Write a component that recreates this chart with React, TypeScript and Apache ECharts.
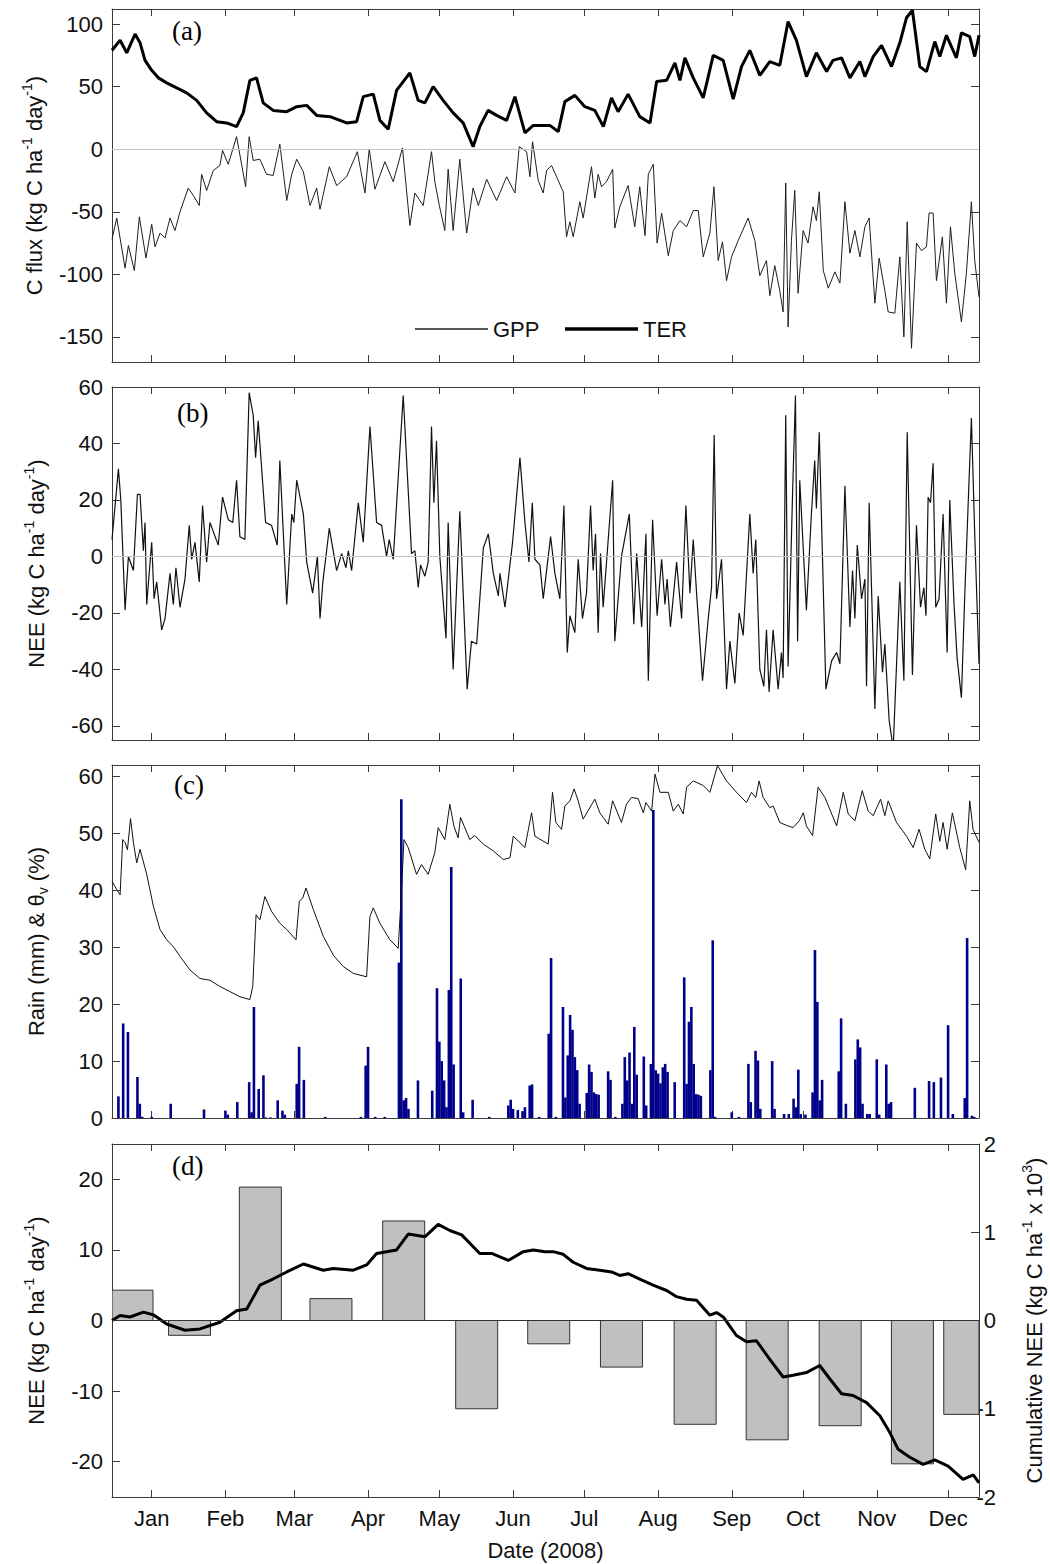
import React, { useEffect, useRef } from "react";
import * as echarts from "echarts";

// ---------- data (x = day of 2008, 0 = 1 Jan) ----------
const monthTicks = [0, 31, 60, 91, 121, 152, 182, 213, 244, 274, 305, 335];
const monthNames = ["Jan", "Feb", "Mar", "Apr", "May", "Jun", "Jul", "Aug", "Sep", "Oct", "Nov", "Dec"];

const terSeries: number[][] = [
  [-16.7, 79], [-13.3, 87], [-10.5, 77], [-7, 92], [-4.9, 85], [-2.8, 71], [0, 63], [2.8, 57], [6.3, 53],
  [10.5, 49], [14.7, 45], [18.9, 39], [23.1, 29], [27.3, 22], [31.5, 21], [35.7, 18], [38.5, 29], [41.3, 55],
  [44.1, 57], [46.9, 37], [51.1, 31], [56.8, 30], [61, 34], [65.2, 35], [69.4, 27], [75, 26], [82, 21],
  [86.2, 22], [89, 42], [93.2, 44], [96, 23], [99.5, 16], [103, 47], [108.6, 61], [112.1, 39], [114.9, 37],
  [118.4, 50], [122.6, 39], [126.8, 29], [131, 21], [135.2, 2], [138, 18], [141.5, 31], [145.1, 27],
  [149.3, 23], [152.8, 42], [157, 13], [160.5, 19], [163.3, 19], [167.5, 19], [171, 14], [173.8, 38],
  [178, 43], [182.2, 34], [186.4, 31], [190, 18], [193.4, 41], [196.2, 30], [200.4, 44], [205.3, 26],
  [209.6, 21], [212.4, 54], [216.6, 55], [220.1, 69], [222.2, 55], [224.3, 73], [227.8, 57], [232, 41],
  [236.2, 75], [240.4, 71], [244.6, 40], [248.1, 66], [251.6, 79], [255.8, 59], [260, 70], [264.2, 67],
  [267.7, 102], [271.2, 87], [275.4, 58], [279.6, 77], [283.9, 62], [286.6, 71], [290.2, 73], [293.7, 57],
  [297.9, 70], [300, 58], [303.5, 74], [307, 83], [311.2, 66], [314.7, 85], [317.5, 105], [320, 111],
  [323.1, 66], [325.9, 62], [329.4, 86], [331.5, 74], [334.3, 91], [338.5, 73], [340.6, 93], [344.1, 90],
  [346.2, 74], [348, 91],
];

const gppSeries: number[][] = [
  [-16.7, -72], [-14.7, -55], [-11.2, -95], [-9.8, -77], [-7.3, -97], [-5.2, -54], [-2.4, -87], [0, -60],
  [1.4, -78], [3.5, -67], [5.6, -71], [7.7, -55], [9.8, -65], [11.9, -50], [15.4, -31], [17.5, -37],
  [20, -45], [21, -20], [23.1, -33], [25.9, -17], [28.7, -13], [29.8, -1], [32.2, -12], [35.7, 10],
  [37.8, -12], [39.5, -30], [41, 10], [42.7, -9], [45.5, -8], [48.3, -20], [51.1, -21], [53.9, 4],
  [56.8, -41], [58.9, -20], [61, -8], [63.8, -18], [66.6, -45], [69.4, -31], [70.8, -48], [74.7, -14],
  [77.8, -29], [82, -22], [86.5, -2], [89.7, -35], [91.5, 0], [93.9, -32], [98.1, -10], [101.6, -26],
  [105.5, 1], [108.6, -61], [110.7, -35], [114.2, -45], [117.7, -2], [119.1, -26], [121, -45], [123.3, -65],
  [124.7, -16], [126.8, -65], [129.6, -8], [132.5, -67], [135.2, -31], [137.4, -45], [140.9, -24],
  [145.1, -41], [149.3, -22], [152.8, -35], [154.6, 2], [157.7, -2], [159.1, -22], [160.2, 6], [162.6, -25],
  [164.7, -35], [166.1, -17], [168.2, -13], [170.3, -22], [173.1, -34], [174.5, -70], [175.9, -58],
  [177.3, -70], [180.1, -42], [181.5, -55], [185, -14], [186.4, -39], [187.8, -20], [189.2, -30],
  [191.3, -26], [193.9, -16], [194.8, -63], [196.9, -46], [200.4, -29], [203.2, -62], [205.3, -30],
  [207.5, -69], [208.9, -20], [211, -12], [212.6, -75], [214.5, -51], [217.3, -85], [219.4, -65],
  [222.2, -57], [225, -62], [227.8, -49], [229.9, -49], [232, -86], [234.8, -67], [236.5, -30],
  [238.3, -89], [240.1, -74], [241.8, -105], [243.9, -86], [246.7, -73], [250.9, -55], [253.7, -73],
  [255.8, -101], [258.6, -89], [260, -117], [262.1, -93], [264.2, -113], [265.6, -130], [266.7, -27],
  [267.7, -142], [269.1, -73], [270.5, -33], [271.9, -115], [274, -65], [276.1, -75], [278.2, -46],
  [279.6, -57], [280.8, -34], [282.5, -97], [284.6, -111], [287.4, -98], [289.5, -107], [291.6, -42],
  [293.7, -83], [295.8, -65], [297.9, -86], [300, -62], [301.8, -55], [304.2, -123], [306, -87],
  [308.4, -113], [309.8, -130], [312.6, -131], [314.7, -86], [316.4, -150], [317.8, -58], [319.6, -159],
  [321.7, -75], [323.8, -81], [325.9, -78], [327, -51], [328.7, -51], [330.1, -105], [332.6, -70],
  [334.3, -123], [336, -62], [337.8, -99], [340.6, -138], [342.7, -99], [344.8, -42], [346.2, -89],
  [348, -118],
];

const neeSeries: number[][] = [
  [-16.7, 6], [-14, 31], [-13, 20], [-11.2, -19], [-9.8, 0], [-7.7, -5], [-6, 22], [-4.9, 22], [-3.5, 2],
  [-2.8, 12], [-2.1, -17], [0, 5], [1, -15], [2.1, -9], [4.2, -26], [5.6, -22], [7.7, -6], [9.1, -17],
  [10.2, -4], [11.9, -18], [14, -8], [15.8, 11], [16.8, -1], [18.2, 5], [20, -9], [21.4, 18], [23.1, -2],
  [24.5, 12], [28, 4], [29.8, 21], [32.2, 13], [34.1, 12], [35.7, 27], [37.1, 7], [39.2, 6], [41, 58],
  [42.7, 50], [43.7, 35], [44.8, 48], [47.9, 12], [50.4, 11], [52.8, 4], [53.9, 34], [56.8, -17],
  [58.9, 15], [59.8, 12], [61, 27], [63.8, 15], [65.2, -2], [67.7, -13], [69.7, 0], [70.8, -22], [72, -9],
  [74.7, 10], [77.8, -5], [79.9, 1], [81.7, -4], [82.7, 2], [84.1, -5], [86.9, 19], [89, 5], [91.8, 46],
  [94.6, 12], [96.7, 11], [98.8, 0], [99.9, 6], [101.6, -1], [105.8, 57], [109.3, 1], [110.7, 2],
  [112.1, -11], [113.1, -3], [114.9, -7], [116.3, -2], [117.7, 46], [118.7, 19], [119.8, 41], [121.2, 0],
  [123.8, -29], [124.7, 12], [126.8, -40], [129.6, 16], [132.7, -47], [134.5, -30], [136.7, -31],
  [139.5, 3], [141.6, 8], [143.7, -6], [145.8, -14], [146.5, -6], [148.6, -18], [151.8, 5], [154.9, 35],
  [157, 12], [158.7, -2], [160.1, 19], [161.2, -1], [163.3, -3], [164.7, -15], [166.1, -5], [167.8, 7],
  [169.6, -6], [171.7, -15], [173.4, 18], [174.8, -34], [175.9, -21], [178, -27], [179.4, -1], [181.2, -22],
  [182.9, -13], [184.6, 18], [185.7, -5], [186.7, 8], [187.8, -27], [188.8, 1], [189.9, -18], [193.9, 27],
  [194.8, -30], [197.6, 0], [200.9, 15], [202.8, -24], [204, 1], [206.1, -25], [207.9, 8], [208.9, -44],
  [210.7, 13], [212.6, -21], [214.5, -1], [215.9, -17], [216.8, -8], [218.2, -25], [220.8, -2],
  [222.9, -22], [224.7, 18], [226.4, -13], [227.8, 6], [229.2, -13], [231.7, -44], [234.1, -22],
  [235.5, -11], [236.6, 43], [237.6, -15], [239.7, -1], [241.8, -47], [243.2, -30], [245.3, -45],
  [247.1, -20], [248.8, -28], [251.6, 15], [253, -6], [254.1, 6], [255.8, -40], [257.5, -46], [258.6, -26],
  [259.7, -48], [261.4, -26], [263.5, -47], [264.9, -34], [265.6, -43], [266.7, 50], [267.7, -39],
  [269.6, 23], [270.8, 57], [271.7, -30], [272.6, 27], [275.4, -19], [277.5, 15], [278.9, 34], [279.6, 17],
  [280.8, 44], [283.6, -47], [286, -37], [288.1, -34], [289.5, -38], [291.6, 25], [293.7, -25],
  [294.8, -5], [295.8, -22], [296.8, 4], [298.6, -15], [300, -8], [300.7, -46], [301.8, 19], [304.2, -54],
  [305.6, -14], [307.4, -41], [308.4, -31], [310.2, -58], [311.9, -68], [314.7, -9], [316.4, -44],
  [317.8, 44], [320, -42], [321.7, 11], [323.4, -18], [324.8, -11], [325.7, -21], [326.6, 21], [327.6, 19],
  [328.7, 33], [329.8, -18], [331.2, -15], [332.9, 15], [334.6, -34], [335.7, 20], [337.5, -17],
  [338.8, -36], [340.6, -50], [342, -14], [344.8, 49], [346.2, 8], [348, -38],
];

const soilMoisture: number[][] = [
  [-16.7, 41.6], [-14.7, 40.1], [-13.3, 39.2], [-12.2, 48.9], [-11.2, 48.4], [-10.2, 47.1], [-8.9, 52.6],
  [-7.7, 48.4], [-6.3, 44.8], [-4.9, 47.2], [-2.1, 42.8], [0.7, 37.2], [3.5, 33.1], [6.3, 31.3], [9.1, 30.1],
  [11.9, 28.4], [16.1, 26], [20.3, 24.5], [24.5, 24.2], [28.7, 23.1], [32.9, 22.2], [37.1, 21.3],
  [41.3, 20.8], [42.5, 23.1], [43.9, 35.7], [45.5, 34.8], [47.6, 38.9], [50.4, 36.3], [53.9, 34.2],
  [56.8, 33.1], [60.7, 31.3], [62.1, 38.1], [63.5, 38.6], [64.9, 40.4], [68, 36.6], [72.2, 31.9],
  [76.4, 28.6], [80.6, 26.6], [84.8, 25.4], [90.4, 24.8], [91.8, 35.4], [93.2, 36.9], [96, 34.2],
  [100.2, 31.3], [103.7, 29.8], [105.1, 40.1], [106.1, 48.9], [107.9, 47.5], [111.4, 42.8], [113.5, 44.5],
  [116.3, 42.8], [119.1, 46.6], [120.5, 51], [123.3, 48.9], [125.4, 55.1], [127.1, 51.3], [128.9, 49.2],
  [129.9, 52.8], [133.8, 48.9], [135.9, 49.6], [139.5, 48.1], [143.7, 46.9], [147.9, 45.4], [150.7, 45.7],
  [152.1, 49.5], [157, 47.5], [159.8, 53.6], [161.2, 49.5], [166.8, 48.1], [168.6, 57.2], [170, 51.9],
  [172.4, 50.7], [173.8, 54.8], [175.9, 55.7], [177.7, 57.8], [179.4, 55.7], [181.5, 52.5], [186.4, 56],
  [188.5, 53.6], [192, 51.6], [193.9, 55.7], [197.6, 51.9], [199.7, 55.1], [201.8, 56.3], [204.6, 56.1],
  [206.8, 53.6], [207.9, 55.4], [210.3, 53.9], [211.7, 60.4], [213.8, 57.2], [217.3, 57.2], [219.4, 53.9],
  [221.5, 55.1], [223.6, 53.4], [225, 58.1], [227.8, 59.2], [232, 58.4], [234.8, 57.2], [238, 61.9],
  [241.8, 59.2], [246, 57.2], [250.2, 55.4], [252.3, 57.2], [254.1, 56.3], [255.5, 59.2], [257.2, 56.3],
  [260, 54.5], [261.4, 54.8], [264.2, 51.9], [267, 51.4], [269.8, 51], [272.4, 52.2], [274.1, 53.6],
  [275.4, 51.3], [278, 49.6], [280.3, 58.1], [283.2, 56.3], [288.1, 51.3], [290.9, 57.2], [293, 53.4],
  [295.8, 52.2], [298.9, 57.5], [301.4, 53.9], [303.5, 53.1], [306.6, 56], [308.4, 53.1], [309.8, 55.7],
  [313.3, 51.9], [317.5, 49.5], [320.3, 47.5], [322.8, 50.7], [325.2, 47.2], [327.3, 45.5], [329.8, 53.4],
  [331.5, 48.6], [332.9, 51.9], [334.6, 47.2], [336.8, 53.6], [339.9, 47.5], [342.4, 43.6], [344.1, 55.7],
  [345.5, 50.7], [348, 48.4],
];

const rainfall: number[][] = [
  [-14, 3.8], [-12, 16.6], [-10, 15.1], [-6, 7.2], [-5, 2.5], [-4, 0.2], [0, 0.2], [8, 2.5], [22, 1.5],
  [31, 1.3], [32, 0.6], [36, 2.8], [41, 6.3], [42, 1.0], [43, 19.5], [45, 5.1], [47, 7.5], [48, 0.1],
  [50, 0.1], [53, 3.1], [55, 1.3], [56, 0.6], [61, 6.0], [62, 12.5], [64, 6.7], [73, 0.2], [88, 0.2],
  [90, 9.2], [91, 12.5], [94, 0.2], [98, 0.2], [104, 27.3], [105, 56], [106, 3.1], [107, 3.5], [108, 1.6],
  [112, 6.6], [118, 4.8], [120, 22.8], [121, 13.4], [122, 10], [123, 6.6], [124, 1.9], [125, 22.5],
  [126, 44.1], [127, 9.4], [130, 24.5], [131, 1.0], [135, 3.2], [142, 0.2], [150, 2.2], [151, 3.2],
  [152, 1.6], [154, 1.4], [156, 1.2], [157, 1.9], [159, 5.7], [160, 5.9], [163, 0.2], [167, 14.8],
  [168, 28.1], [170, 0.2], [173, 19.5], [174, 3.6], [175, 11], [176, 18.1], [177, 15.5], [178, 10.7],
  [179, 8.4], [180, 2.5], [183, 4.4], [184, 9.4], [185, 8.1], [186, 4.5], [187, 4.2], [188, 4.1],
  [192, 8.2], [193, 6.7], [195, 0.2], [198, 2.5], [199, 10.7], [200, 6.6], [201, 11.5], [202, 2.5],
  [203, 16], [204, 7.6], [207, 10.8], [208, 2.2], [210, 9.5], [211, 54.1], [212, 8.4], [213, 7.8],
  [214, 6.1], [215, 8.9], [216, 9.5], [217, 8.1], [220, 6.3], [224, 24.7], [225, 6], [226, 16.9],
  [227, 19.5], [228, 9.5], [229, 4.2], [230, 4.1], [231, 3.9], [235, 8.4], [236, 31.2], [237, 0.2],
  [244, 1.0], [247, 0.2], [251, 9.5], [252, 2.8], [254, 11.8], [255, 10.1], [256, 1.6], [261, 10],
  [262, 1.6], [266, 0.7], [268, 0.7], [270, 3.4], [271, 1.9], [272, 8.5], [273, 0.7], [275, 0.6],
  [278, 4.5], [279, 29.5], [280, 20.4], [281, 3.1], [282, 6.7], [289, 8.2], [290, 17.5], [292, 2.5],
  [296, 10.3], [297, 13.8], [298, 12.4], [299, 2.5], [301, 0.7], [302, 0.7], [305, 10.3], [306, 0.6],
  [309, 9.4], [310, 2.5], [311, 2.8], [321, 5.3], [327, 6.5], [329, 6.3], [332, 7.1], [335, 16.3],
  [337, 0.7], [342, 3.5], [343, 31.6], [345, 0.4], [346, 0.2],
];

const monthlyDays = [-8.3, 15.9, 45.7, 75.4, 106, 136.7, 167, 197.6, 228.6, 258.9, 289.6, 320, 342];
const monthlyNEE = [4.3, -2.1, 18.9, 3.1, 14.1, -12.5, -3.3, -6.6, -14.7, -16.9, -14.9, -20.3, -13.3];

const cumulativeNEE: number[][] = [
  [-16.7, 0], [-13.3, 0.057], [-9.1, 0.04], [-3.5, 0.095], [0.7, 0.064], [6.3, -0.04], [14, -0.11],
  [20.3, -0.095], [28.7, -0.02], [35.7, 0.11], [40, 0.13], [45.5, 0.4], [51, 0.47], [56.8, 0.55],
  [63.8, 0.64], [72.2, 0.57], [76.4, 0.59], [84.8, 0.57], [90.4, 0.63], [94.6, 0.76], [103, 0.8],
  [107.9, 0.98], [115, 0.95], [120.5, 1.09], [125.4, 1.02], [130.4, 0.97], [138, 0.76], [143, 0.76],
  [150, 0.68], [156.3, 0.78], [160.5, 0.8], [165.4, 0.78], [168.9, 0.78], [173.1, 0.75], [177.3, 0.66],
  [182.9, 0.59], [188.5, 0.57], [193.4, 0.55], [196.9, 0.51], [200.4, 0.53], [205.3, 0.47], [210.9, 0.4],
  [216.6, 0.34], [220.8, 0.27], [225, 0.24], [229.2, 0.23], [234.8, 0.06], [237.6, 0.09], [240.4, 0.04],
  [246, -0.17], [250.2, -0.24], [254.4, -0.23], [260, -0.44], [265.6, -0.64], [269.8, -0.62],
  [275.4, -0.59], [281, -0.51], [285.2, -0.66], [290.2, -0.83], [295, -0.85], [300.7, -0.93],
  [306.3, -1.08], [310.5, -1.27], [314, -1.46], [318.9, -1.55], [324.5, -1.63], [329.4, -1.58],
  [335, -1.65], [341.3, -1.8], [345.6, -1.75], [348, -1.84],
];

const fluxTicks = [-150, -100, -50, 0, 50, 100];
const neeTicks = [-60, -40, -20, 0, 20, 40, 60];
const rainTicks = [0, 10, 20, 30, 40, 50, 60];
const monthNeeTicks = [-20, -10, 0, 10, 20];
const cumTicks = [-2, -1, 0, 1, 2];

// ---------- styling ----------
const FONT = "'Liberation Sans', Arial, Helvetica, sans-serif";
const SERIF = "'Liberation Serif', 'Times New Roman', serif";
const AXIS_COLOR = "#3a3a3a";
const TEXT_COLOR = "#111";
const X_MIN = -16.7;
const X_MAX = 348;
const GRID_LEFT = 112;
const GRID_W = 867;
const GRID_H = 353;
const GRID_TOPS = [9, 387, 765, 1144];
const MONTH_BAR_PX = 42;

const nameRich = {
  sup: { fontSize: 14, fontFamily: FONT, color: TEXT_COLOR, verticalAlign: "top", lineHeight: 14 },
  sub: { fontSize: 14, fontFamily: FONT, color: TEXT_COLOR, verticalAlign: "bottom", lineHeight: 14 },
};

function xAxes(i: number) {
  const base = {
    type: "value",
    gridIndex: i,
    min: X_MIN,
    max: X_MAX,
    splitLine: { show: false },
    axisLine: { show: true, onZero: false, lineStyle: { color: AXIS_COLOR, width: 1 } },
    axisTick: { show: true, inside: true, length: 7, customValues: monthTicks, lineStyle: { color: AXIS_COLOR } },
  };
  const bottom: any = {
    ...base,
    position: "bottom",
    axisLabel: {
      show: i === 3,
      customValues: monthTicks,
      margin: 10,
      fontSize: 22,
      fontFamily: FONT,
      color: TEXT_COLOR,
      formatter: (v: number) => monthNames[monthTicks.indexOf(v)] ?? "",
    },
  };
  if (i === 3) {
    bottom.name = "Date (2008)";
    bottom.nameLocation = "middle";
    bottom.nameGap = 42;
    bottom.nameTextStyle = { fontSize: 22, fontFamily: FONT, color: TEXT_COLOR };
  }
  const top = { ...base, position: "top", axisLabel: { show: false } };
  return [bottom, top];
}

function yAxes(i: number, min: number, max: number, ticks: number[], name: string, right?: any) {
  const line = { show: true, onZero: false, lineStyle: { color: AXIS_COLOR, width: 1 } };
  const left = {
    type: "value",
    gridIndex: i,
    position: "left",
    min,
    max,
    splitLine: { show: false },
    axisLine: line,
    axisTick: { show: true, inside: true, length: 8, customValues: ticks, lineStyle: { color: AXIS_COLOR } },
    axisLabel: { customValues: ticks, margin: 9, fontSize: 22, fontFamily: FONT, color: TEXT_COLOR },
    name,
    nameLocation: "middle",
    nameGap: 62,
    nameRotate: 90,
    nameTextStyle: { fontSize: 22, fontFamily: FONT, color: TEXT_COLOR, lineHeight: 28, rich: nameRich },
  };
  const r = right
    ? {
        type: "value",
        gridIndex: i,
        position: "right",
        min: right.min,
        max: right.max,
        splitLine: { show: false },
        axisLine: line,
        axisTick: { show: true, inside: true, length: 8, customValues: right.ticks, lineStyle: { color: AXIS_COLOR } },
        axisLabel: {
          customValues: right.ticks,
          margin: 17,
          align: "right",
          fontSize: 22,
          fontFamily: FONT,
          color: TEXT_COLOR,
        },
        name: right.name,
        nameLocation: "middle",
        nameGap: 41,
        nameRotate: 90,
        nameTextStyle: { fontSize: 22, fontFamily: FONT, color: TEXT_COLOR, lineHeight: 28, rich: nameRich },
      }
    : {
        type: "value",
        gridIndex: i,
        position: "right",
        min,
        max,
        splitLine: { show: false },
        axisLine: line,
        axisTick: { show: true, inside: true, length: 8, customValues: ticks, lineStyle: { color: AXIS_COLOR } },
        axisLabel: { show: false },
      };
  return [left, r];
}

const zeroLine = (color: string) => ({
  silent: true,
  symbol: ["none", "none"],
  label: { show: false },
  lineStyle: { color, type: "solid", width: 1 },
  data: [{ yAxis: 0 }],
});

function renderMonthBar(params: any, api: any) {
  const x = api.value(0);
  const v = api.value(1);
  const p0 = api.coord([x, 0]);
  const p1 = api.coord([x, v]);
  const cs = params.coordSys;
  const shape = echarts.graphic.clipRectByRect(
    {
      x: p0[0] - MONTH_BAR_PX / 2,
      y: Math.min(p0[1], p1[1]),
      width: MONTH_BAR_PX,
      height: Math.abs(p1[1] - p0[1]),
    },
    { x: cs.x, y: cs.y, width: cs.width, height: cs.height }
  );
  if (!shape) return null;
  return {
    type: "rect",
    shape,
    style: { fill: "#c0c0c0", stroke: "#333", lineWidth: 1 },
  };
}

function buildOption() {
  const grids = GRID_TOPS.map((t) => ({
    left: GRID_LEFT,
    top: t,
    width: GRID_W,
    height: GRID_H,
    containLabel: false,
    outerBoundsMode: "none",
    show: false,
  }));
  const xAxis = [0, 1, 2, 3].flatMap((i) => xAxes(i));
  const yAxis = [
    ...yAxes(0, -170, 112, fluxTicks, "C flux (kg C ha{sup|-1} day{sup|-1})"),
    ...yAxes(1, -65, 60, neeTicks, "NEE (kg C ha{sup|-1} day{sup|-1})"),
    ...yAxes(2, 0, 62, rainTicks, "Rain (mm) & θ{sub|v} (%)"),
    ...yAxes(3, -25, 25, monthNeeTicks, "NEE (kg C ha{sup|-1} day{sup|-1})", {
      min: -2,
      max: 2,
      ticks: cumTicks,
      name: "Cumulative NEE (kg C ha{sup|-1} x 10{sup|3})",
    }),
  ];

  const panelLabels = ["(a)", "(b)", "(c)", "(d)"];
  const labelPos = [
    [172, 17],
    [177, 399],
    [174, 771],
    [172, 1152],
  ];

  const legendBase = {
    show: true,
    top: 313,
    orient: "horizontal",
    icon: "rect",
    itemWidth: 73,
    itemGap: 17,
    textStyle: { fontSize: 22, fontFamily: FONT, color: TEXT_COLOR },
  };

  return {
    animation: false,
    backgroundColor: "#ffffff",
    grid: grids,
    xAxis,
    yAxis,
    legend: [
      { ...legendBase, left: 410, itemHeight: 1.3, data: ["GPP"] },
      { ...legendBase, left: 560, itemHeight: 3.5, data: ["TER"] },
    ],
    graphic: panelLabels.map((t, k) => ({
      type: "text",
      x: labelPos[k][0],
      y: labelPos[k][1],
      style: { text: t, fontSize: 27, fontFamily: SERIF, fill: "#000", textVerticalAlign: "top" },
      silent: true,
    })),
    series: [
      {
        name: "GPP",
        type: "line",
        xAxisIndex: 0,
        yAxisIndex: 0,
        data: gppSeries,
        symbol: "none",
        lineStyle: { color: "#1e1e1e", width: 1 },
        itemStyle: { color: "#1e1e1e" },
        markLine: zeroLine("#c4c4c4"),
      },
      {
        name: "TER",
        type: "line",
        xAxisIndex: 0,
        yAxisIndex: 0,
        data: terSeries,
        symbol: "none",
        lineStyle: { color: "#000", width: 3 },
        itemStyle: { color: "#000" },
      },
      {
        name: "NEE",
        type: "line",
        xAxisIndex: 2,
        yAxisIndex: 2,
        data: neeSeries,
        symbol: "none",
        lineStyle: { color: "#111", width: 1.2 },
        markLine: zeroLine("#c4c4c4"),
      },
      {
        name: "Rain",
        type: "bar",
        xAxisIndex: 4,
        yAxisIndex: 4,
        data: rainfall,
        barWidth: 2.6,
        itemStyle: { color: "#00008b" },
      },
      {
        name: "Soil moisture",
        type: "line",
        xAxisIndex: 4,
        yAxisIndex: 4,
        data: soilMoisture,
        symbol: "none",
        lineStyle: { color: "#111", width: 1 },
      },
      {
        name: "Monthly NEE",
        type: "custom",
        xAxisIndex: 6,
        yAxisIndex: 6,
        data: monthlyDays.map((d, k) => [d, monthlyNEE[k]]),
        encode: { x: 0, y: 1 },
        renderItem: renderMonthBar,
        clip: true,
        z: 1,
      },
      {
        name: "Cumulative NEE",
        type: "line",
        xAxisIndex: 6,
        yAxisIndex: 7,
        data: cumulativeNEE,
        symbol: "none",
        lineStyle: { color: "#000", width: 3 },
        markLine: zeroLine("#333"),
        z: 3,
      },
    ],
  };
}

export default function App() {
  const ref = useRef<HTMLDivElement>(null);
  useEffect(() => {
    if (!ref.current) return;
    const chart = echarts.init(ref.current, null, { renderer: "svg" });
    chart.setOption(buildOption() as any);
    return () => chart.dispose();
  }, []);
  return (
    <div
      ref={ref}
      style={{ position: "absolute", left: 0, top: 0, width: 1050, height: 1564, background: "#fff" }}
    />
  );
}
